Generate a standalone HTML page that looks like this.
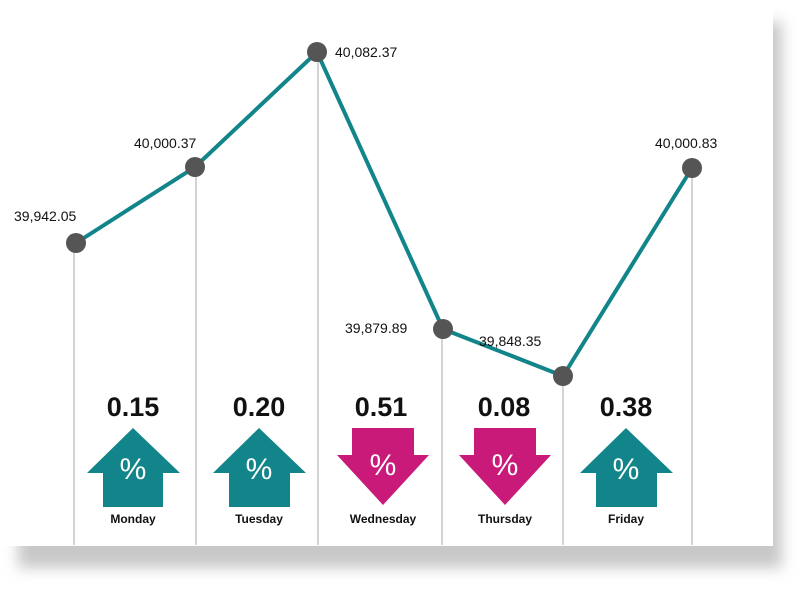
<!DOCTYPE html>
<html><head><style>
body{margin:0;background:#fff;width:800px;height:589px;overflow:hidden}
</style></head><body>
<svg width="800" height="589" xmlns="http://www.w3.org/2000/svg" font-family="Liberation Sans, sans-serif">
<defs><filter id="b" x="-10%" y="-10%" width="130%" height="130%"><feGaussianBlur stdDeviation="7"/></filter></defs>
<rect x="18" y="22" width="764" height="546" fill="#c8c8c8" filter="url(#b)"/>
<rect x="0" y="0" width="773" height="546" fill="#fff"/>
<g stroke="#aaa" stroke-width="1">
<line x1="74" y1="243" x2="74" y2="545"/><line x1="196" y1="167" x2="196" y2="545"/>
<line x1="318" y1="52" x2="318" y2="545"/><line x1="442" y1="329" x2="442" y2="545"/>
<line x1="563" y1="376" x2="563" y2="545"/><line x1="692" y1="168" x2="692" y2="545"/>
</g>
<polyline points="76,243 195,167 317,52 443,329 563,376 692,168" fill="none" stroke="#12858a" stroke-width="4"/>
<g fill="#555">
<circle cx="76" cy="243" r="10"/><circle cx="195" cy="167" r="10"/><circle cx="317" cy="52" r="10"/>
<circle cx="443" cy="329" r="10"/><circle cx="563" cy="376" r="10"/><circle cx="692" cy="168" r="10"/>
</g>
<g font-size="14" fill="#111">
<text x="14" y="221">39,942.05</text><text x="134" y="148">40,000.37</text>
<text x="335" y="57">40,082.37</text><text x="345" y="333">39,879.89</text>
<text x="479" y="346">39,848.35</text><text x="655" y="148">40,000.83</text>
</g>
<g font-size="27" font-weight="bold" fill="#111" text-anchor="middle">
<text x="133" y="416">0.15</text><text x="259" y="416">0.20</text><text x="381" y="416">0.51</text>
<text x="504" y="416">0.08</text><text x="626" y="416">0.38</text>
</g>
<g fill="#12858a">
<polygon points="133,428 180,473 163,473 163,507 103,507 103,473 87,473"/>
<polygon points="259,428 306,473 290,473 290,507 229,507 229,473 213,473"/>
<polygon points="626,428 673,473 657,473 657,507 596,507 596,473 580,473"/>
</g>
<g fill="#c91a7a">
<polygon points="352,428 414,428 414,455 429,455 383,505 337,455 352,455"/>
<polygon points="474,428 536,428 536,455 551,455 505,505 459,455 474,455"/>
</g>
<g font-size="30" fill="#fff" text-anchor="middle">
<text x="133" y="479">%</text><text x="259" y="479">%</text><text x="383" y="475">%</text>
<text x="505" y="475">%</text><text x="626" y="479">%</text>
</g>
<g font-size="12" font-weight="bold" fill="#111" text-anchor="middle">
<text x="133" y="523">Monday</text><text x="259" y="523">Tuesday</text><text x="383" y="523">Wednesday</text>
<text x="505" y="523">Thursday</text><text x="626" y="523">Friday</text>
</g>
</svg>
</body></html>
